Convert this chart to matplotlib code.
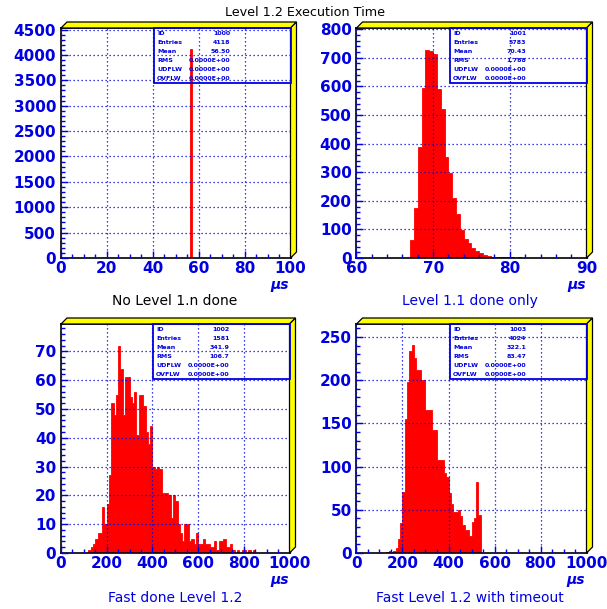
import matplotlib
matplotlib.use('Agg')
import matplotlib.pyplot as plt
import numpy as np
from matplotlib.patches import Polygon, Rectangle
from matplotlib.ticker import MultipleLocator

plt.rcParams['font.family'] = ['DejaVu Sans']

# ---------------- data ----------------
title = "Level 1.2 Execution Time"
xunit = "µs"

# panel 1 : No Level 1.n done
p1_title = "No Level 1.n done"
p1_start, p1_width = 56.0, 1.0
p1_counts = [4118]
p1_stats = ["1000", "4118", "56.50", "0.0000E+00", "0.0000E+00", "0.0000E+00"]

# panel 2 : Level 1.1 done only
p2_title = "Level 1.1 done only"
p2_start, p2_width = 67.0, 0.5
p2_counts = [62, 176, 388, 596, 728, 722, 712, 590, 521, 353, 297, 211, 155, 99,
             68, 52, 36, 24, 16, 10, 7, 5, 4, 3, 3, 2, 2, 1, 2, 1, 1]
p2_stats = ["1001", "5783", "70.43", "1.788", "0.0000E+00", "0.0000E+00"]

# panel 3 : Fast done Level 1.2
p3_title = "Fast done Level 1.2"
p3_start, p3_width = 120.0, 10.0
p3_counts = [1, 2, 3, 5, 7, 7, 16, 10, 17, 27, 52, 48, 55, 72, 64, 48, 61, 61,
             54, 52, 56, 41, 55, 55, 51, 42, 38, 44, 30, 29, 30, 29, 21, 21, 21,
             20, 12, 20, 18, 10, 7, 4, 10, 10, 4, 5, 3, 7, 3, 3, 5, 3, 3, 2, 2,
             4, 1, 4, 4, 5, 2, 2, 3, 1, 0, 1, 0, 1, 1, 0, 1, 0, 1]
p3_stats = ["1002", "1581", "341.9", "106.7", "0.0000E+00", "0.0000E+00"]

# panel 4 : Fast Level 1.2 with timeout
p4_title = "Fast Level 1.2 with timeout"
p4_start, p4_width = 130.0, 10.0
p4_counts = [1, 2, 1, 2, 6, 16, 35, 71, 155, 198, 234, 241, 226, 212, 212, 200,
             200, 165, 165, 165, 142, 142, 108, 108, 108, 93, 88, 70, 57, 48, 48,
             50, 43, 32, 27, 27, 20, 36, 40, 82, 44]
p4_stats = ["1003", "4024", "322.1", "83.47", "0.0000E+00", "0.0000E+00"]

stat_labels = ["ID", "Entries", "Mean", "RMS", "UDFLW", "OVFLW"]

# ---------------- style ----------------
W, H = 607, 609
BLUE = '#0000e0'
RED = '#ff0000'
YELLOW = '#ffff00'

fig = plt.figure(figsize=(W / 100, H / 100), dpi=100)
fig.patch.set_facecolor('white')


def fx(x):
    return x / W


def fy(y):
    return 1 - y / H


def panel(box, start, width, counts, xlim, ylim, xmaj, xmin, ymaj, ymin,
          stats, sub, subcolor, unit_pos, sub_pos):
    l, t, r, b = box
    ax = fig.add_axes([fx(l), fy(b), fx(r - l), (b - t) / H])
    edges = start + width * np.arange(len(counts) + 1)
    ax.stairs(counts, edges, fill=True, color=RED, linewidth=0.6,
              edgecolor=RED, zorder=1)
    ax.set_xlim(*xlim)
    ax.set_ylim(*ylim)
    ax.xaxis.set_major_locator(MultipleLocator(xmaj))
    ax.xaxis.set_minor_locator(MultipleLocator(xmin))
    ax.yaxis.set_major_locator(MultipleLocator(ymaj))
    ax.yaxis.set_minor_locator(MultipleLocator(ymin))
    ax.set_axisbelow(False)
    ax.grid(True, which='major', color=BLUE, linestyle=(0, (1, 2.2)),
            linewidth=0.9)
    ax.tick_params(which='major', direction='in', length=5, width=1,
                   color=BLUE, labelcolor=BLUE, labelsize=11)
    ax.tick_params(axis='x', which='major', pad=2.0)
    ax.tick_params(axis='y', which='major', pad=3.5)
    ax.tick_params(which='minor', direction='in', length=3, width=1,
                   color=BLUE)
    for lab in ax.get_xticklabels() + ax.get_yticklabels():
        lab.set_fontweight('bold')
    for s in ax.spines.values():
        s.set_color('black')
        s.set_linewidth(1.2)

    # 3D yellow frame
    d = 6
    top = [(l, t), (l + d, t - d), (r + d, t - d), (r, t)]
    right = [(r, t), (r + d, t - d), (r + d, b - d), (r, b)]
    for poly in (top, right):
        fig.add_artist(Polygon([(fx(x), fy(y)) for x, y in poly], closed=True,
                               transform=fig.transFigure, facecolor=YELLOW,
                               edgecolor='black', linewidth=0.9, zorder=3))

    # stats box
    bl = r - 137
    bh = 55
    fig.add_artist(Rectangle((fx(bl), fy(t + bh)), 137 / W, bh / H,
                             transform=fig.transFigure, fill=False,
                             edgecolor=BLUE, linewidth=1.3, zorder=4))
    for i, (lab, val) in enumerate(zip(stat_labels, stats)):
        yy = fy(t + 5.5 + 9.1 * i)
        fig.text(fx(bl + 3.5), yy, lab, color=BLUE, fontsize=4.5,
                 fontweight='bold', ha='left', va='center', zorder=5)
        fig.text(fx(bl + 77), yy, val, color=BLUE, fontsize=4.5,
                 fontweight='bold', ha='right', va='center', zorder=5)

    fig.text(fx(unit_pos[0]), fy(unit_pos[1]), xunit, color=BLUE,
             fontsize=10, fontweight='bold', fontstyle='italic',
             ha='center', va='center')
    fig.text(fx(sub_pos[0]), fy(sub_pos[1]), sub, color=subcolor,
             fontsize=10, ha='center', va='center')
    return ax


panel((61, 28, 290.5, 258), p1_start, p1_width, p1_counts, (0, 100),
      (0, 4530), 20, 5, 500, 100, p1_stats, p1_title, 'black',
      (280, 285), (175, 301))
panel((356.5, 28, 586.5, 258), p2_start, p2_width, p2_counts, (60, 90),
      (0, 804), 10, 2, 100, 20, p2_stats, p2_title, BLUE,
      (577, 285), (470, 301))
panel((61, 324, 289.5, 553), p3_start, p3_width, p3_counts, (0, 1000),
      (0, 79.5), 200, 50, 10, 2, p3_stats, p3_title, BLUE,
      (280, 580), (175, 598))
panel((356.5, 324, 586.5, 553), p4_start, p4_width, p4_counts, (0, 1000),
      (0, 265), 200, 50, 50, 10, p4_stats, p4_title, BLUE,
      (576, 580), (470, 598))

fig.text(fx(305), fy(13), title, color='black', fontsize=9.2,
         ha='center', va='center')

fig.savefig('out.png', dpi=100)
